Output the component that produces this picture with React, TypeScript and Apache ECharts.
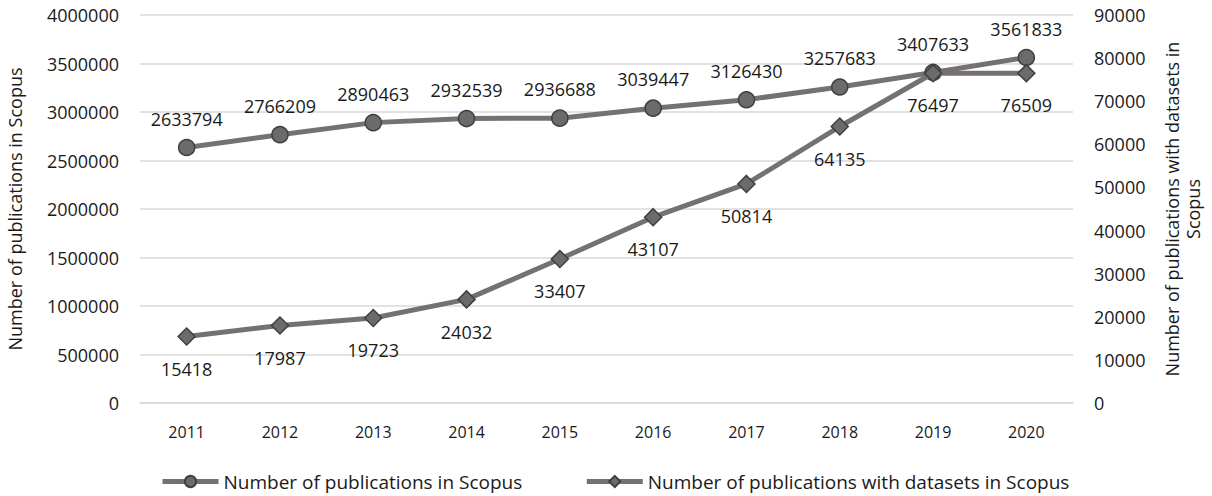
import React, { useEffect, useRef } from "react";
import * as echarts from "echarts";

const years = ["2011", "2012", "2013", "2014", "2015", "2016", "2017", "2018", "2019", "2020"];
const publications = [2633794, 2766209, 2890463, 2932539, 2936688, 3039447, 3126430, 3257683, 3407633, 3561833];
const datasetPublications = [15418, 17987, 19723, 24032, 33407, 43107, 50814, 64135, 76497, 76509];

const seriesNames = ["Number of publications in Scopus", "Number of publications with datasets in Scopus"];
const leftAxisName = "Number of publications in Scopus";
const rightAxisName = "Number of publications with datasets in\nScopus";

const FONT = "'Open Sans', sans-serif";
const LINE = "#767171";
const MARK = "#6b6b6b";
const MARK_BORDER = "#3f3f3f";
const TEXT = "#1a1a1a";
const GRID = "#d9d9d9";

const plain = (v: number) => String(v);

export default function App() {
  const ref = useRef<HTMLDivElement>(null);
  useEffect(() => {
    if (!ref.current) return;
    const chart = echarts.init(ref.current, null, { renderer: "svg" });
    chart.setOption({
      animation: false,
      textStyle: { fontFamily: FONT, color: TEXT },
      grid: { left: 140, right: 139, top: 15, bottom: 93, containLabel: false, outerBoundsMode: "none" },
      legend: {
        left: 155,
        top: 467,
        itemGap: 62,
        itemWidth: 56,
        itemHeight: 14,
        lineStyle: { width: 5, color: LINE },
        textStyle: { fontFamily: FONT, fontSize: 19, color: TEXT },
        data: seriesNames,
      },
      xAxis: {
        type: "category",
        data: years,
        boundaryGap: true,
        axisLine: { show: true, lineStyle: { color: GRID, width: 1.5 } },
        axisTick: { show: false },
        axisLabel: { fontFamily: FONT, fontSize: 16, color: TEXT, margin: 21 },
      },
      yAxis: [
        {
          type: "value",
          min: 0,
          max: 4000000,
          interval: 500000,
          name: leftAxisName,
          nameLocation: "middle",
          nameRotate: 90,
          nameGap: 116,
          nameTextStyle: { fontFamily: FONT, fontSize: 18, color: TEXT },
          axisLine: { show: false },
          axisTick: { show: false },
          axisLabel: { fontFamily: FONT, fontSize: 18, color: TEXT, margin: 21, formatter: plain },
          splitLine: { show: true, lineStyle: { color: GRID, width: 1.5 } },
        },
        {
          type: "value",
          position: "right",
          min: 0,
          max: 90000,
          interval: 10000,
          alignTicks: false,
          name: rightAxisName,
          nameLocation: "middle",
          nameRotate: 90,
          nameGap: 88,
          nameTextStyle: { fontFamily: FONT, fontSize: 18, color: TEXT, align: "center", lineHeight: 21 },
          axisLine: { show: false },
          axisTick: { show: false },
          axisLabel: { fontFamily: FONT, fontSize: 18, color: TEXT, margin: 21, formatter: plain },
          splitLine: { show: false },
        },
      ],
      series: [
        {
          name: seriesNames[0],
          type: "line",
          yAxisIndex: 0,
          data: publications,
          symbol: "circle",
          symbolSize: 16,
          lineStyle: { color: LINE, width: 5 },
          itemStyle: { color: MARK, borderColor: MARK_BORDER, borderWidth: 1.5 },
          label: {
            show: true,
            position: "top",
            distance: 11,
            fontFamily: FONT,
            fontSize: 18,
            color: TEXT,
          },
          z: 3,
        },
        {
          name: seriesNames[1],
          type: "line",
          yAxisIndex: 1,
          data: datasetPublications,
          symbol: "diamond",
          symbolSize: 17,
          lineStyle: { color: LINE, width: 5 },
          itemStyle: { color: MARK, borderColor: MARK_BORDER, borderWidth: 1.5 },
          label: {
            show: true,
            position: "bottom",
            distance: 14,
            fontFamily: FONT,
            fontSize: 18,
            color: TEXT,
          },
          z: 4,
        },
      ],
    });
    return () => chart.dispose();
  }, []);
  return (
    <div
      ref={ref}
      style={{ position: "fixed", left: 0, top: 0, width: 1212, height: 496, background: "#ffffff" }}
    />
  );
}
